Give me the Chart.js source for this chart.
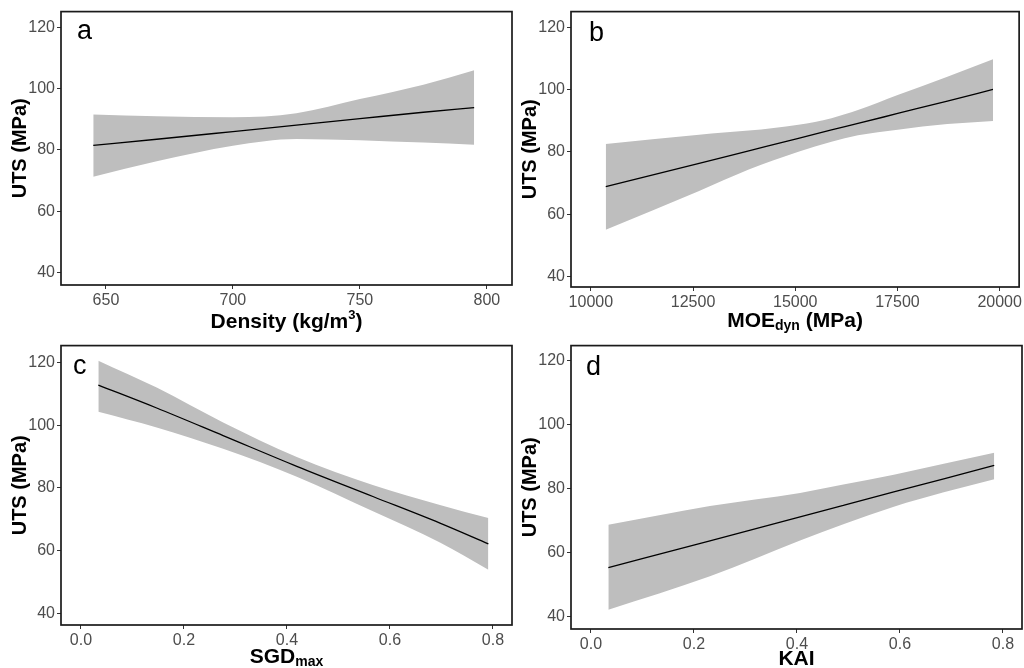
<!DOCTYPE html>
<html><head><meta charset="utf-8">
<script src="https://cdn.jsdelivr.net/npm/chart.js@4.4.1/dist/chart.umd.min.js"></script>
<style>
html,body{margin:0;padding:0;background:#fff;width:1024px;height:668px;overflow:hidden}
canvas{position:absolute}
</style></head><body>
<canvas id="pa" width="516" height="334" style="left:0px;top:0px"></canvas>
<canvas id="pb" width="514" height="334" style="left:510px;top:0px"></canvas>
<canvas id="pc" width="516" height="334" style="left:0px;top:334px"></canvas>
<canvas id="pd" width="514" height="334" style="left:510px;top:334px"></canvas>
<script>
// shared y axis
const yTicks = [40, 60, 80, 100, 120];
const yTickLabels = ['40', '60', '80', '100', '120'];
const yTitle = 'UTS (MPa)';

// panel a: Density
const densityX     = [645, 670, 700, 725, 750, 775, 795];
const densityFit   = [81.5, 83.5, 86.0, 88.1, 90.2, 92.3, 93.8];
const densityUpper = [91.6, 91.0, 90.7, 92.0, 96.6, 101.3, 106.0];
const densityLower = [71.3, 76.3, 81.4, 83.6, 83.2, 82.4, 81.7];
const densityTicks = [650, 700, 750, 800];
const densityTickLabels = ['650', '700', '750', '800'];

// panel b: MOEdyn
const moeX     = [10364, 12648, 13862, 15077, 15886, 16534, 17505, 18720, 19837];
const moeFit   = [68.8, 76.3, 80.3, 84.3, 87.0, 89.1, 92.3, 96.3, 100.0];
const moeUpper = [82.5, 85.5, 86.8, 88.7, 90.8, 93.4, 98.2, 104.1, 109.7];
const moeLower = [55.0, 67.4, 74.3, 80.0, 83.2, 85.3, 87.1, 88.9, 89.9];
const moeTicks = [10000, 12500, 15000, 17500, 20000];
const moeTickLabels = ['10000', '12500', '15000', '17500', '20000'];

// panel c: SGDmax
const sgdX     = [0.0337, 0.147, 0.276, 0.419, 0.568, 0.697, 0.791];
const sgdFit   = [112.8, 105.5, 96.7, 86.9, 77.2, 68.8, 62.2];
const sgdUpper = [120.6, 112.0, 100.9, 89.9, 80.9, 74.6, 70.4];
const sgdLower = [104.3, 99.3, 92.5, 83.6, 72.5, 62.6, 53.9];
const fracTicks = [0, 0.2, 0.4, 0.6, 0.8];
const fracTickLabels = ['0.0', '0.2', '0.4', '0.6', '0.8'];

// panel d: KAI
const kaiX     = [0.0337, 0.231, 0.406, 0.49, 0.588, 0.685, 0.783];
const kaiFit   = [55.3, 63.7, 71.2, 74.8, 79.0, 83.1, 87.3];
const kaiUpper = [68.7, 74.6, 78.7, 81.3, 84.4, 87.8, 91.3];
const kaiLower = [42.1, 52.6, 63.8, 68.9, 74.4, 78.9, 83.0];

const FONT = "'Liberation Sans', Arial, Helvetica, sans-serif";

function pts(xs, ys) { return xs.map((x, i) => ({x: x, y: ys[i]})); }

function drawRich(ctx, parts, cx, baseline) {
  let total = 0;
  parts.forEach(p => { ctx.font = 'bold ' + p.size + 'px ' + FONT; p.w = ctx.measureText(p.t).width; total += p.w; });
  let x = cx - total / 2;
  ctx.textAlign = 'left';
  ctx.textBaseline = 'alphabetic';
  parts.forEach(p => {
    ctx.font = 'bold ' + p.size + 'px ' + FONT;
    ctx.fillText(p.t, x, baseline + (p.dy || 0));
    x += p.w;
  });
}

function makePanel(id, c) {
  const decor = {
    id: 'decor' + id,
    afterDatasetsDraw(chart) {
      const ctx = chart.ctx, a = chart.chartArea;
      ctx.save();
      ctx.strokeStyle = '#1a1a1a';
      ctx.lineWidth = 1.7;
      ctx.strokeRect(a.left, a.top, a.right - a.left, a.bottom - a.top);
      ctx.restore();
    },
    afterDraw(chart) {
      const ctx = chart.ctx, a = chart.chartArea;
      ctx.save();
      ctx.fillStyle = '#000';
      ctx.font = '27px ' + FONT;
      ctx.textAlign = 'left';
      ctx.textBaseline = 'alphabetic';
      ctx.fillText(c.letter, c.letterX, c.letterY);
      ctx.save();
      ctx.translate(20, (a.top + a.bottom) / 2);
      ctx.rotate(-Math.PI / 2);
      ctx.font = 'bold 20px ' + FONT;
      ctx.textAlign = 'center';
      ctx.textBaseline = 'middle';
      ctx.fillText(yTitle, 0, 0);
      ctx.restore();
      drawRich(ctx, c.xTitle, (a.left + a.right) / 2, c.xTitleY);
      ctx.restore();
    }
  };
  const tickFont = {size: 16, family: FONT};
  return new Chart(document.getElementById(id), {
    type: 'line',
    data: {
      datasets: [
        {data: pts(c.xs, c.upper), borderWidth: 0, borderColor: 'rgba(0,0,0,0)', pointRadius: 0, fill: '+1', backgroundColor: '#bebebe', cubicInterpolationMode: 'monotone', order: 3},
        {data: pts(c.xs, c.lower), borderWidth: 0, borderColor: 'rgba(0,0,0,0)', pointRadius: 0, fill: false, cubicInterpolationMode: 'monotone', order: 2},
        {data: pts(c.xs, c.fit), borderWidth: 1.3, borderColor: '#000', pointRadius: 0, fill: false, cubicInterpolationMode: 'monotone', order: 1}
      ]
    },
    options: {
      responsive: false,
      animation: false,
      devicePixelRatio: 1,
      layout: {padding: {top: c.padTop, right: c.padRight, left: 0, bottom: 0}},
      plugins: {legend: {display: false}, tooltip: {enabled: false}},
      events: [],
      scales: {
        x: {
          type: 'linear', min: c.xMin, max: c.xMax,
          afterBuildTicks: s => { s.ticks = c.xTicks.map(v => ({value: v})); },
          afterFit: s => { s.height = c.xAxisH; },
          ticks: {font: tickFont, color: '#4d4d4d', padding: 2, maxRotation: 0, autoSkip: false,
                  callback: (v) => c.xTickLabels[c.xTicks.indexOf(v)]},
          grid: {drawOnChartArea: false, drawTicks: true, tickLength: 4, color: '#333'},
          border: {display: false}
        },
        y: {
          type: 'linear', min: c.yMin, max: c.yMax,
          afterBuildTicks: s => { s.ticks = yTicks.map(v => ({value: v})); },
          afterFit: s => { s.width = 61; },
          ticks: {font: tickFont, color: '#4d4d4d', padding: 2, autoSkip: false,
                  callback: (v) => yTickLabels[yTicks.indexOf(v)]},
          grid: {drawOnChartArea: false, drawTicks: true, tickLength: 4, color: '#333'},
          border: {display: false}
        }
      }
    },
    plugins: [decor]
  });
}

makePanel('pa', {
  xs: densityX, fit: densityFit, upper: densityUpper, lower: densityLower,
  xMin: 632.3, xMax: 809.9, xTicks: densityTicks, xTickLabels: densityTickLabels,
  yMin: 36.0, yMax: 125.1, padTop: 9, padRight: 4, xAxisH: 49,
  letter: 'a', letterX: 77, letterY: 39,
  xTitle: [{t: 'Density (kg/m', size: 21}, {t: '3', size: 13, dy: -9}, {t: ')', size: 21}], xTitleY: 328
});
makePanel('pb', {
  xs: moeX, fit: moeFit, upper: moeUpper, lower: moeLower,
  xMin: 9514, xMax: 20476, xTicks: moeTicks, xTickLabels: moeTickLabels,
  yMin: 36.6, yMax: 125.0, padTop: 9, padRight: 2, xAxisH: 47,
  letter: 'b', letterX: 79, letterY: 41,
  xTitle: [{t: 'MOE', size: 21}, {t: 'dyn', size: 14, dy: 3}, {t: ' (MPa)', size: 21}], xTitleY: 327
});
makePanel('pc', {
  xs: sgdX, fit: sgdFit, upper: sgdUpper, lower: sgdLower,
  xMin: -0.0388, xMax: 0.8369, xTicks: fracTicks, xTickLabels: fracTickLabels,
  yMin: 36.3, yMax: 125.4, padTop: 8, padRight: 4, xAxisH: 43,
  letter: 'c', letterX: 73, letterY: 40,
  xTitle: [{t: 'SGD', size: 21}, {t: 'max', size: 14, dy: 3}], xTitleY: 329
});
makePanel('pd', {
  xs: kaiX, fit: kaiFit, upper: kaiUpper, lower: kaiLower,
  xMin: -0.0388, xMax: 0.8369, xTicks: fracTicks, xTickLabels: fracTickLabels,
  yMin: 36.1, yMax: 124.8, padTop: 9, padRight: 2, xAxisH: 39,
  letter: 'd', letterX: 76, letterY: 41,
  xTitle: [{t: 'KAI', size: 21}], xTitleY: 331
});
</script>
</body></html>
